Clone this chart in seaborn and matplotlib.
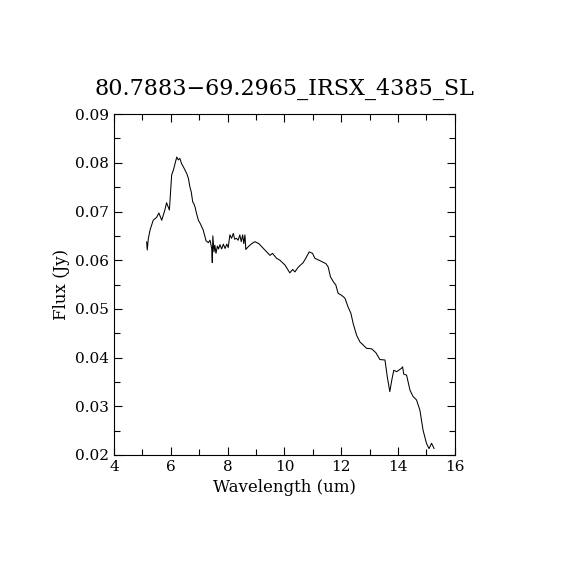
import numpy as np
import pandas as pd
import seaborn as sns
import matplotlib
matplotlib.use("Agg")
import matplotlib.pyplot as plt
from matplotlib.ticker import MultipleLocator

# spectrum
wavelength = [5.15, 5.17, 5.21, 5.27, 5.38, 5.50, 5.58, 5.68, 5.79, 5.85, 5.95,
              6.03, 6.09, 6.21, 6.26, 6.32, 6.38, 6.44, 6.50, 6.56, 6.62, 6.67,
              6.72, 6.77, 6.81, 6.85, 6.91, 6.97, 7.03, 7.14, 7.24, 7.32, 7.38,
              7.44, 7.46, 7.48, 7.52, 7.55, 7.59, 7.64, 7.68, 7.73, 7.79, 7.85,
              7.91, 7.97, 8.02, 8.08, 8.14, 8.20, 8.25, 8.31, 8.37, 8.43, 8.48,
              8.53, 8.57, 8.61, 8.64, 8.73, 8.85, 8.96, 9.10, 9.31, 9.49, 9.58,
              9.72, 9.84, 10.02, 10.19, 10.29, 10.37, 10.49, 10.66, 10.78, 10.87,
              10.99, 11.07, 11.25, 11.46, 11.54, 11.62, 11.72, 11.81, 11.89,
              12.01, 12.13, 12.24, 12.34, 12.42, 12.54, 12.66, 12.77, 12.89,
              13.07, 13.22, 13.36, 13.54, 13.62, 13.71, 13.78, 13.85, 13.95,
              14.12, 14.16, 14.20, 14.30, 14.42, 14.53, 14.65, 14.77, 14.88,
              15.00, 15.09, 15.18, 15.27]
flux = [0.0638, 0.0621, 0.0645, 0.0662, 0.0682, 0.0688, 0.0697, 0.0682, 0.0703,
        0.0718, 0.0703, 0.0775, 0.0785, 0.0812, 0.0806, 0.0809, 0.0798, 0.0792,
        0.0785, 0.0778, 0.0768, 0.0751, 0.0740, 0.0720, 0.0716, 0.0710, 0.0695,
        0.0682, 0.0676, 0.0662, 0.0640, 0.0636, 0.0641, 0.0624, 0.0595, 0.0650,
        0.0617, 0.0631, 0.0614, 0.0629, 0.0623, 0.0632, 0.0623, 0.0633, 0.0624,
        0.0633, 0.0626, 0.0652, 0.0645, 0.0655, 0.0643, 0.0645, 0.0641, 0.0652,
        0.0638, 0.0652, 0.0634, 0.0652, 0.0622, 0.0628, 0.0634, 0.0638, 0.0634,
        0.0621, 0.0610, 0.0614, 0.0604, 0.0600, 0.0590, 0.0574, 0.0581, 0.0576,
        0.0586, 0.0595, 0.0607, 0.0617, 0.0614, 0.0604, 0.0599, 0.0593, 0.0586,
        0.0566, 0.0556, 0.0549, 0.0532, 0.0528, 0.0522, 0.0504, 0.0491, 0.0470,
        0.0446, 0.0432, 0.0426, 0.0419, 0.0418, 0.0410, 0.0396, 0.0395, 0.0361,
        0.0330, 0.0354, 0.0374, 0.0371, 0.0378, 0.0381, 0.0366, 0.0364, 0.0333,
        0.0320, 0.0313, 0.0292, 0.0251, 0.0224, 0.0213, 0.0224, 0.0213]

title = "80.7883\u221269.2965_IRSX_4385_SL"

df = pd.DataFrame({"wl": wavelength, "flux": flux})

sns.set_style("ticks")
plt.rcParams["font.family"] = ["DejaVu Serif"]

fig = plt.figure(figsize=(5.7, 5.7), dpi=100)
ax = fig.add_axes([0.2, 0.2018, 0.598, 0.598])
sns.lineplot(data=df, x="wl", y="flux", ax=ax, color="black", linewidth=0.75,
             sort=False, estimator=None)

ax.set_xlim(4, 16)
ax.set_ylim(0.02, 0.09)
ax.xaxis.set_major_locator(MultipleLocator(2))
ax.xaxis.set_minor_locator(MultipleLocator(1))
ax.yaxis.set_major_locator(MultipleLocator(0.01))
ax.yaxis.set_minor_locator(MultipleLocator(0.005))
ax.yaxis.set_major_formatter(matplotlib.ticker.FormatStrFormatter("%.2f"))
ax.tick_params(which="both", direction="in", top=True, right=True,
               color="black", width=0.8, labelsize=11, labelcolor="black")
ax.tick_params(which="major", length=6)
ax.tick_params(which="minor", length=4)
for s in ax.spines.values():
    s.set_color("black")
    s.set_linewidth(0.8)

ax.set_xlabel("Wavelength (um)", fontsize=12, color="black")
ax.set_ylabel("Flux (Jy)", fontsize=12, color="black")
ax.set_title(title, fontsize=16, color="black", pad=14)

fig.savefig("out.png", dpi=100, facecolor="white")
